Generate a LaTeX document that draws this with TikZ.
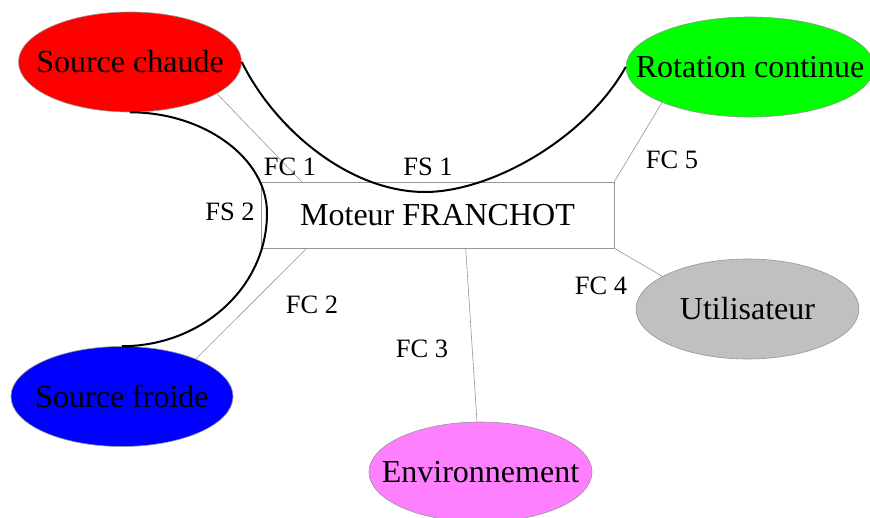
\documentclass[tikz,border=0pt]{standalone}
\usepackage{fontspec}
\setmainfont{Liberation Serif}
\usetikzlibrary{shapes.geometric}
\definecolor{hotcol}{RGB}{255,0,0}
\definecolor{rotcol}{RGB}{0,255,0}
\definecolor{coldcol}{RGB}{0,0,255}
\definecolor{usercol}{RGB}{192,192,192}
\definecolor{envcol}{RGB}{255,128,255}
\definecolor{thin}{RGB}{150,150,150}
\begin{document}
\begin{tikzpicture}[x=1pt,y=-1pt,
  bubble/.style={ellipse, draw=thin, line width=0.6pt, inner sep=0pt,
                 minimum width=223pt, minimum height=100pt},
  big/.style={font=\fontsize{32}{38}\selectfont},
  tag/.style={font=\fontsize{26.5}{32}\selectfont, inner sep=0pt},
  fs/.style={line width=2pt, black},
  fc/.style={draw=thin, line width=0.6pt}]
\useasboundingbox[fill=white] (0,0) rectangle (870,518);

% external elements
\node[bubble, fill=hotcol, label={[big]center:Source chaude}] (sc) at (130,62) {};
\node[bubble, fill=rotcol, minimum width=248pt, label={[big]center:Rotation continue}] (rc) at (750,67) {};
\node[bubble, fill=coldcol, minimum width=222pt, label={[big]center:Source froide}] (sf) at (122,396.5) {};
\node[bubble, fill=usercol, label={[big]center:Utilisateur}] (ut) at (747.5,309) {};
\node[bubble, fill=envcol, label={[big]center:Environnement}] (env) at (480.5,472) {};

% the product
\node[draw=thin, line width=0.6pt, minimum width=353pt, minimum height=66pt,
      inner sep=0pt, big] (motor) at (437.5,215) {Moteur FRANCHOT};

% constraint functions
\draw[fc] (sc.-20) -- ([xshift=41pt]motor.north west);
\draw[fc] ([xshift=46pt]motor.south west) -- (sf.27);
\draw[fc] ([xshift=205pt]motor.south west) -- (env.94);
\draw[fc] (motor.south east) -- (ut.159);
\draw[fc] (motor.north east) -- (rc.202);

% service functions
\coordinate (fs1b) at (425,192);
\draw[fs] (sc.east) .. controls +(33.5,68) and +(-75,0) .. (fs1b)
          .. controls +(65,0) and +(-41,73) .. (rc.west);
\coordinate (fs2r) at (267,213);
\draw[fs] (sc.south) .. controls +(74,0) and +(0,-55) .. (fs2r)
          .. controls +(0,75) and +(79,0) .. (sf.north);

% function labels
\node[tag] (fc1) at (290,167) {FC 1};
\node[tag] (fs1) at (428,167) {FS 1};
\node[tag] (fs2) at (230,212) {FS 2};
\node[tag] (fc5) at (672,160) {FC 5};
\node[tag] (fc2) at (312,305) {FC 2};
\node[tag] (fc3) at (422,349) {FC 3};
\node[tag] (fc4) at (601,286) {FC 4};
\end{tikzpicture}
\end{document}
